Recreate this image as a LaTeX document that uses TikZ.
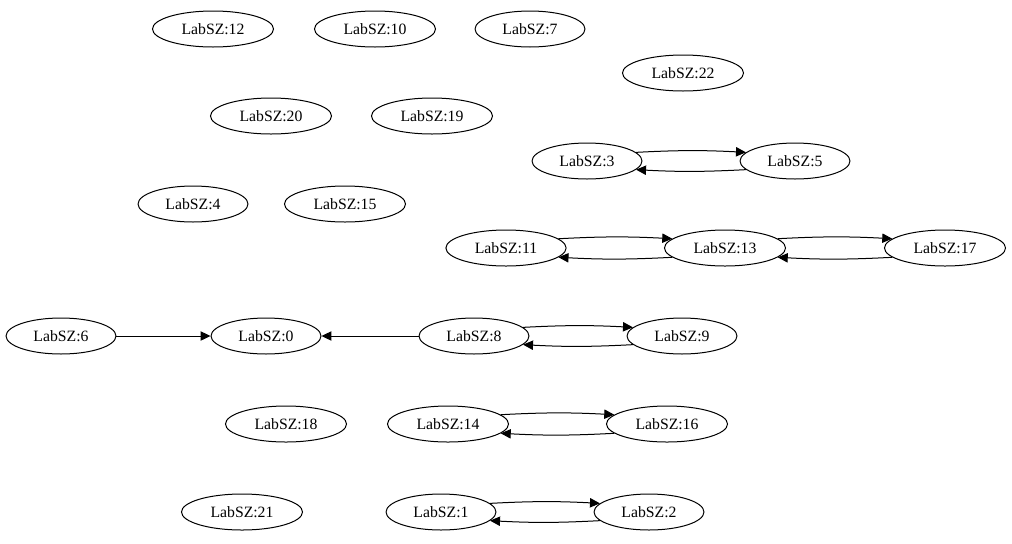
\documentclass[tikz,border=0pt]{standalone}
\usepackage{fontspec}
\setmainfont{Liberation Serif}
\usetikzlibrary{arrows.meta, shapes.geometric}

\begin{document}
\begin{tikzpicture}[
    x=0.75pt, y=-0.75pt, line width=0.75pt,
    lab/.style={ellipse, draw, inner xsep=8.5pt, inner ysep=1pt, minimum height=27pt, font=\fontsize{11.8}{13}\selectfont},
    arrow/.style={-{Triangle[length=7.5pt, width=7pt]}},
    fwd/.style={arrow, bend left=3},
]
\useasboundingbox (0,0) rectangle (1012,543);

% upper free nodes
\node[lab] (n12) at (213, 29) {LabSZ:12};
\node[lab] (n10) at (375, 29) {LabSZ:10};
\node[lab] (n7) at (530, 29) {LabSZ:7};
\node[lab] (n22) at (683, 73) {LabSZ:22};
\node[lab] (n20) at (271, 116) {LabSZ:20};
\node[lab] (n19) at (432, 116) {LabSZ:19};
\node[lab] (n4) at (193, 204) {LabSZ:4};
\node[lab] (n15) at (345, 204) {LabSZ:15};

% connected nodes
\node[lab] (n3) at (587, 161) {LabSZ:3};
\node[lab] (n5) at (795, 161) {LabSZ:5};
\node[lab] (n11) at (506, 248) {LabSZ:11};
\node[lab] (n13) at (725, 248) {LabSZ:13};
\node[lab] (n17) at (945, 248) {LabSZ:17};
\node[lab] (n6) at (61, 336) {LabSZ:6};
\node[lab] (n0) at (266, 336) {LabSZ:0};
\node[lab] (n8) at (474, 336) {LabSZ:8};
\node[lab] (n9) at (682, 336) {LabSZ:9};
\node[lab] (n18) at (286, 424) {LabSZ:18};
\node[lab] (n14) at (448, 424) {LabSZ:14};
\node[lab] (n16) at (667, 424) {LabSZ:16};
\node[lab] (n21) at (242, 512) {LabSZ:21};
\node[lab] (n1) at (441, 512) {LabSZ:1};
\node[lab] (n2) at (649, 512) {LabSZ:2};

\draw[fwd] (n3.10) to (n5.170);
\draw[fwd] (n5.190) to (n3.-10);
\draw[fwd] (n11.10) to (n13.170);
\draw[fwd] (n13.190) to (n11.-10);
\draw[fwd] (n13.10) to (n17.170);
\draw[fwd] (n17.190) to (n13.-10);
\draw[arrow] (n6) -- (n0);
\draw[arrow] (n8) -- (n0);
\draw[fwd] (n8.10) to (n9.170);
\draw[fwd] (n9.190) to (n8.-10);
\draw[fwd] (n14.10) to (n16.170);
\draw[fwd] (n16.190) to (n14.-10);
\draw[fwd] (n1.10) to (n2.170);
\draw[fwd] (n2.190) to (n1.-10);

\end{tikzpicture}
\end{document}
